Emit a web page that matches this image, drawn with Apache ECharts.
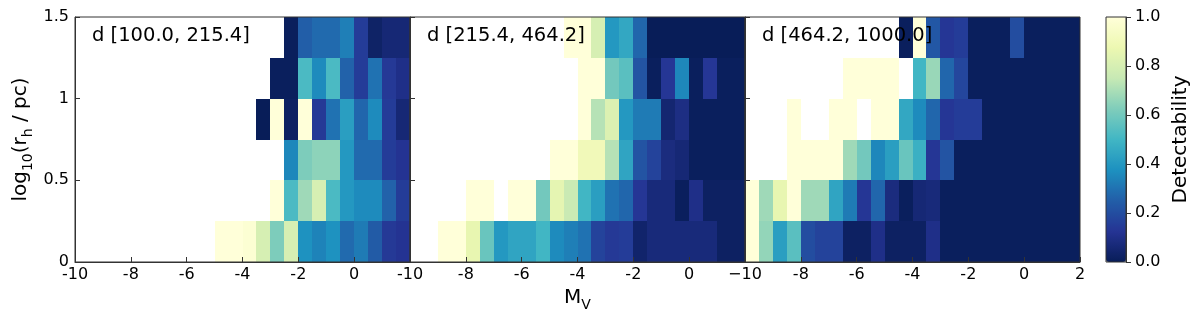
<!DOCTYPE html>
<html>
<head>
<meta charset="utf-8">
<script src="https://cdn.jsdelivr.net/npm/echarts@6/dist/echarts.min.js"></script>
<style>
html, body { margin: 0; padding: 0; background: #fff; }
#chart { width: 1200px; height: 319px; }
</style>
</head>
<body>
<div id="chart"></div>
<script>
const _ = null

// lower edges of the bins: M_V (0.5 mag) and log10(rh/pc) (0.25 dex)
const mvBins = [-10, -9.5, -9, -8.5, -8, -7.5, -7, -6.5, -6, -5.5, -5, -4.5,
  -4, -3.5, -3, -2.5, -2, -1.5, -1, -0.5, 0, 0.5, 1, 1.5]
const rhBins = [0, 0.25, 0.5, 0.75, 1.0, 1.25]
const binW = 0.5
const binH = 0.25

const panelTitles = ['d [100.0, 215.4]', 'd [215.4, 464.2]', 'd [464.2, 1000.0]']

// detectability, rows from log10(rh)=0 upwards, null = no data
const detNear = [
  [_, _, _, _, _, _, _, _, _, _, 1.0, 1.0, 0.98, 0.80, 0.62, 0.80, 0.38, 0.34, 0.38, 0.28, 0.32, 0.24, 0.14, 0.12],
  [_, _, _, _, _, _, _, _, _, _, _, _, _, _, 1.0, 0.52, 0.68, 0.80, 0.52, 0.40, 0.36, 0.36, 0.26, 0.15],
  [_, _, _, _, _, _, _, _, _, _, _, _, _, _, _, 0.35, 0.62, 0.65, 0.65, 0.40, 0.28, 0.28, 0.15, 0.12],
  [_, _, _, _, _, _, _, _, _, _, _, _, _, 0.0, 1.0, 0.02, 1.0, 0.14, 0.30, 0.42, 0.27, 0.36, 0.15, 0.06],
  [_, _, _, _, _, _, _, _, _, _, _, _, _, _, 0.01, 0.01, 0.52, 0.36, 0.52, 0.26, 0.15, 0.30, 0.14, 0.10],
  [_, _, _, _, _, _, _, _, _, _, _, _, _, _, _, 0.01, 0.25, 0.28, 0.28, 0.33, 0.15, 0.03, 0.06, 0.06]
]
const detMid = [
  [_, _, 1.0, 1.0, 0.86, 0.58, 0.40, 0.44, 0.44, 0.50, 0.36, 0.33, 0.30, 0.17, 0.14, 0.15, 0.04, 0.07, 0.07, 0.07, 0.07, 0.07, 0.02, 0.02],
  [_, _, _, _, 1.0, 1.0, _, 1.0, 1.0, 0.60, 0.85, 0.76, 0.50, 0.42, 0.30, 0.27, 0.13, 0.07, 0.07, 0.01, 0.10, 0.02, 0.02, 0.02],
  [_, _, _, _, _, _, _, _, _, _, 1.0, 1.0, 0.90, 0.90, 0.72, 0.44, 0.22, 0.17, 0.08, 0.06, 0.01, 0.01, 0.01, 0.01],
  [_, _, _, _, _, _, _, _, _, _, _, _, 1.0, 0.72, 0.82, 0.40, 0.32, 0.32, 0.05, 0.09, 0.01, 0.01, 0.01, 0.01],
  [_, _, _, _, _, _, _, _, _, _, _, _, 1.0, 1.0, 0.60, 0.55, 0.22, 0.01, 0.13, 0.35, 0.01, 0.13, 0.01, 0.01],
  [_, _, _, _, _, _, _, _, _, _, _, 1.0, 1.0, 0.80, 0.40, 0.45, 0.27, 0.0, 0.0, 0.0, 0.0, 0.0, 0.0, 0.0]
]
const detFar = [
  [1.0, 0.66, 0.42, 0.55, 0.20, 0.17, 0.17, 0.02, 0.02, 0.10, 0.02, 0.02, 0.02, 0.10, 0.01, 0.01, 0.01, 0.01, 0.01, 0.01, 0.01, 0.01, 0.01, 0.01],
  [1.0, 0.68, 0.86, 1.0, 0.68, 0.68, 0.44, 0.32, 0.13, 0.27, 0.08, 0.01, 0.06, 0.07, 0.01, 0.01, 0.01, 0.01, 0.01, 0.01, 0.01, 0.01, 0.01, 0.01],
  [_, _, _, 1.0, 1.0, 1.0, 1.0, 0.68, 0.60, 0.35, 0.42, 0.58, 0.48, 0.13, 0.22, 0.01, 0.01, 0.01, 0.01, 0.01, 0.01, 0.01, 0.01, 0.01],
  [_, _, _, 1.0, _, _, 1.0, 1.0, _, 1.0, 1.0, 0.45, 0.36, 0.27, 0.13, 0.15, 0.15, 0.01, 0.01, 0.01, 0.01, 0.01, 0.01, 0.01],
  [_, _, _, _, _, _, _, 1.0, 1.0, 1.0, 1.0, _, 0.50, 0.67, 0.27, 0.18, 0.01, 0.01, 0.01, 0.01, 0.01, 0.01, 0.01, 0.01],
  [_, _, _, _, _, _, _, _, _, _, _, 0.01, 1.0, 0.23, 0.13, 0.15, 0.01, 0.01, 0.01, 0.20, 0.01, 0.01, 0.01, 0.01]
]

// YlGnBu reversed
const cmap = ['#081d58', '#253494', '#225ea8', '#1d91c0', '#41b6c4', '#7fcdbb', '#c7e9b4', '#edf8b1', '#ffffd9']

const FONT = 'DejaVu Sans'
const INK = '#333'
const panelLeft = [75, 410, 745]
const panelW = 335
const panelTop = 17
const panelH = 245

function toCells(rows) {
  const out = []
  rows.forEach((row, r) => row.forEach((v, c) => {
    if (v !== null) out.push([mvBins[c], rhBins[r], v])
  }))
  return out
}

// snap the cell corners to whole pixels so neighbours meet without seams
function renderCell(params, api) {
  const x = api.value(0), y = api.value(1)
  const p0 = api.coord([x, y + binH])
  const p1 = api.coord([x + binW, y])
  const x0 = Math.round(p0[0]), y0 = Math.round(p0[1])
  return {
    type: 'rect',
    shape: { x: x0, y: y0, width: Math.round(p1[0]) - x0, height: Math.round(p1[1]) - y0 },
    style: { fill: api.visual('color') }
  }
}

const subRich = {
  m: { fontSize: 20, fontFamily: FONT, color: '#000' },
  s: { fontSize: 14, fontFamily: FONT, color: '#000', lineHeight: 14, padding: [10, 0, 0, 0], verticalAlign: 'top' }
}

const chart = echarts.init(document.getElementById('chart'), null, { renderer: 'canvas' })

const grids = panelLeft.map(l => ({
  left: l, top: panelTop, width: panelW, height: panelH,
  show: true, backgroundColor: 'transparent', borderColor: INK, borderWidth: 1, z: 10,
  outerBoundsMode: 'none'
}))
grids.push({ left: 1106, top: panelTop, width: 20, height: panelH, show: true,
  backgroundColor: 'transparent', borderColor: INK, borderWidth: 1, z: 10, outerBoundsMode: 'none' })

const xAxes = panelLeft.map((l, i) => ({
  gridIndex: i, type: 'value', min: -10, max: 2, interval: 2, z: 11,
  axisLine: { onZero: false, lineStyle: { color: INK, width: 1 } },
  axisTick: { inside: true, length: 5, lineStyle: { color: INK } },
  splitLine: { show: false },
  axisLabel: {
    fontSize: 16, fontFamily: FONT, color: '#000', margin: 5,
    formatter: v => (i < 2 && v === 2) ? '' : (i === 2 && v === -10 ? '\u221210' : String(v))
  },
  name: i === 1 ? '{m|M}{s|V}' : '',
  nameLocation: 'middle', nameGap: 22,
  nameTextStyle: { rich: subRich }
}))
xAxes.push({ gridIndex: 3, type: 'value', min: 0, max: 1, show: false })

const yAxes = panelLeft.map((l, i) => ({
  gridIndex: i, type: 'value', min: 0, max: 1.5, interval: 0.5, z: 11,
  axisLine: { onZero: false, lineStyle: { color: INK, width: 1 } },
  axisTick: { inside: true, length: 5, lineStyle: { color: INK } },
  splitLine: { show: false },
  axisLabel: { show: i === 0, fontSize: 16, fontFamily: FONT, color: '#000', margin: 6 },
  name: i === 0 ? '{m|log}{s|10}{m|(r}{s|h}{m| / pc)}' : '',
  nameLocation: 'middle', nameGap: 44, nameRotate: 90,
  nameTextStyle: { rich: subRich }
}))
yAxes.push({
  gridIndex: 3, type: 'value', min: 0, max: 1, interval: 0.2, position: 'right', z: 11,
  axisLine: { show: true, onZero: false, lineStyle: { color: INK, width: 1 } },
  axisTick: { show: true, inside: false, length: 5, lineStyle: { color: INK } },
  splitLine: { show: false },
  axisLabel: { fontSize: 16, fontFamily: FONT, color: '#000', margin: 9,
    formatter: v => v.toFixed(1) },
  name: 'Detectability', nameLocation: 'middle', nameGap: 45, nameRotate: 90,
  nameTextStyle: { fontSize: 20, fontFamily: FONT, color: '#000' }
})

const panels = [detNear, detMid, detFar]

chart.setOption({
  animation: false,
  textStyle: { fontFamily: FONT },
  grid: grids,
  xAxis: xAxes,
  yAxis: yAxes,
  visualMap: {
    type: 'continuous', min: 0, max: 1, dimension: 2, seriesIndex: [0, 1, 2],
    inRange: { color: cmap },
    calculable: false, hoverLink: false, show: true,
    left: 1106, top: panelTop, itemWidth: 20, itemHeight: panelH, padding: 0,
    text: null
  },
  graphic: panelTitles.map((t, i) => ({
    type: 'text', left: panelLeft[i] + 17, top: 26, z: 20,
    style: { text: t, font: '19.5px "DejaVu Sans"', fill: '#000' }
  })),
  series: panels.map((rows, i) => ({
    type: 'custom', xAxisIndex: i, yAxisIndex: i,
    renderItem: renderCell,
    encode: { x: 0, y: 1 },
    data: toCells(rows)
  }))
})
</script>
</body>
</html>
